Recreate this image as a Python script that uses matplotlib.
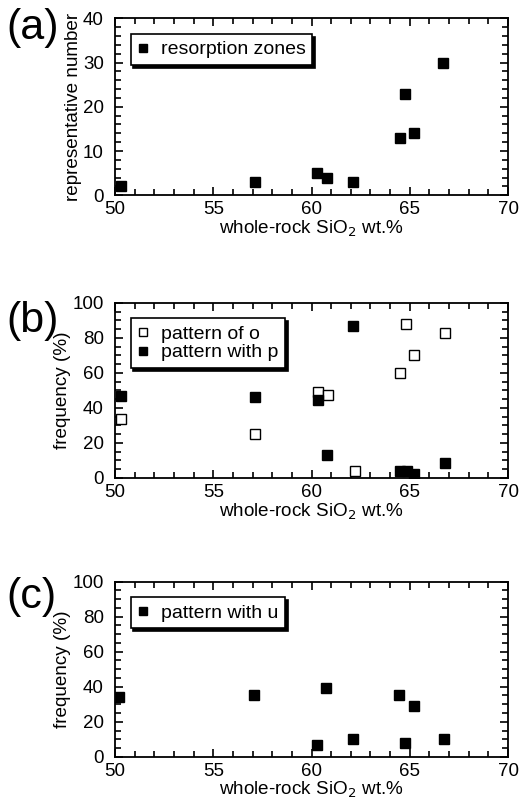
import matplotlib.pyplot as plt
from matplotlib.ticker import MultipleLocator

plt.rcParams['font.family'] = ['Liberation Sans', 'DejaVu Sans']

# (a) resorption zones
sio2_a = [50.3, 57.1, 60.3, 60.8, 62.1, 64.5, 64.75, 65.2, 66.7]
resorption = [2, 3, 5, 4, 3, 13, 23, 14, 30]

# (b) patterns o and p
sio2_b = [50.3, 57.1, 60.35, 60.85, 62.2, 64.5, 64.8, 65.2, 66.8]
pattern_o = [33.5, 25, 49, 47.5, 4, 60, 88, 70, 82.5]
sio2_bp = [50.3, 57.1, 60.35, 60.8, 62.1, 64.5, 64.85, 65.2, 66.8]
pattern_p = [47, 46, 44.5, 13, 86.5, 4, 4, 2, 8.5]

# (c) pattern u
sio2_c = [50.2, 57.06, 60.75, 60.3, 62.1, 64.45, 65.2, 64.75, 66.75]
pattern_u = [34, 35.5, 39, 7, 10, 35.5, 29, 8, 10]

fig = plt.figure(figsize=(5.29, 8), dpi=100)
ax_a = fig.add_axes([0.2174, 0.756, 0.743, 0.221])
ax_b = fig.add_axes([0.2174, 0.4025, 0.743, 0.219])
ax_c = fig.add_axes([0.2174, 0.054, 0.743, 0.219])

ms = 7.5
ax_a.plot(sio2_a, resorption, 's', color='black', ms=ms, label='resorption zones')
ax_b.plot(sio2_b, pattern_o, 's', mfc='white', mec='black', mew=1.0, ms=ms, label='pattern of o')
ax_b.plot(sio2_bp, pattern_p, 's', color='black', ms=ms, label='pattern with p')
ax_c.plot(sio2_c, pattern_u, 's', color='black', ms=ms, label='pattern with u')

# panel tag vertical centres, in pixels from the top
settings = [
    (ax_a, '(a)', 28, 'representative number', 40, 10, 2),
    (ax_b, '(b)', 321, 'frequency (%)', 100, 20, 5),
    (ax_c, '(c)', 597, 'frequency (%)', 100, 20, 5),
]
for ax, tag, tag_y, ylab, ymax, major, minor in settings:
    ax.set_xlim(50, 70)
    ax.set_ylim(0, ymax)
    ax.xaxis.set_major_locator(MultipleLocator(5))
    ax.xaxis.set_minor_locator(MultipleLocator(1))
    ax.yaxis.set_major_locator(MultipleLocator(major))
    ax.yaxis.set_minor_locator(MultipleLocator(minor))
    ax.tick_params(which='both', direction='in', top=True, right=True, labelsize=13.5, width=1.2)
    ax.tick_params(which='major', length=6)
    ax.tick_params(which='minor', length=4)
    ax.tick_params(axis='x', which='major', pad=4.5)
    ax.tick_params(axis='y', which='major', pad=8)
    for s in ax.spines.values():
        s.set_linewidth(1.3)
    ax.set_xlabel('whole-rock SiO$_2$ wt.%', fontsize=13.6, labelpad=0)
    ax.set_ylabel(ylab, fontsize=13.6, labelpad=1)
    leg = ax.legend(loc='upper left', fontsize=14, frameon=True, fancybox=False,
                    shadow={'color': 'black', 'alpha': 1}, edgecolor='black',
                    handlelength=0.6, handletextpad=0.6, borderpad=0.35,
                    labelspacing=0.05, borderaxespad=0.8, framealpha=1,
                    markerscale=0.75)
    leg.get_frame().set_linewidth(1.2)
    fig.text(6 / 529, 1 - tag_y / 800, tag, fontsize=31, ha='left', va='center')

fig.savefig('out.png', dpi=100)
